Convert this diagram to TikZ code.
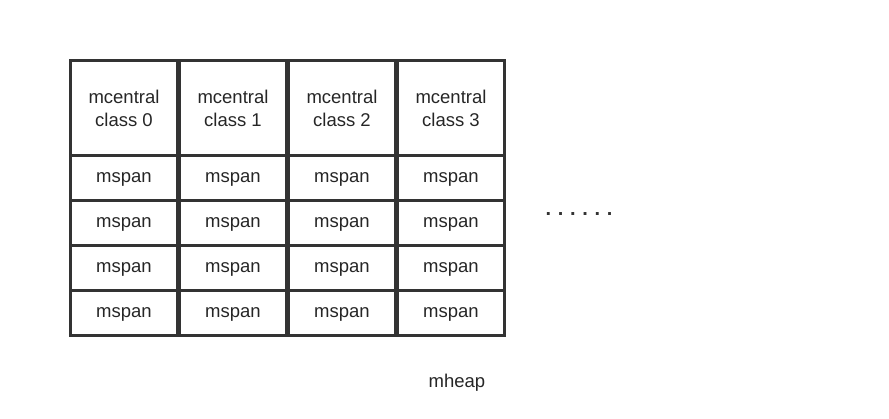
\documentclass[tikz,border=0pt]{standalone}
\usepackage{fontspec}
\setmainfont{Liberation Sans}
\begin{document}
\begin{tikzpicture}[x=1pt, y=-1pt,
    cell/.style={draw=black!80, line width=2.6pt, minimum width=107pt, inner sep=0pt, align=center, font=\fontsize{18.5}{23}\selectfont, text=black!85}]

        \useasboundingbox (0,0) rectangle (889,419);
        % header row with one mcentral per class
        \foreach \c in {0,...,3} {
            \node[cell, minimum height=95pt] (head\c) at (124+109*\c,108) {mcentral\\class \c};
            % mspan rows below
            \foreach \r in {1,...,4} {
                \node[cell, minimum height=45pt, text depth=0pt] (span\c\r) at (124+109*\c,133+45*\r) {mspan};
            }
        }

        \node[font=\fontsize{20}{20}\bfseries, text=black!80] (more) at (579,214) {.\,\,.\,\,.\,\,.\,\,.\,\,.};
        \node[font=\fontsize{18.5}{23}\selectfont, text=black!85] (heap) at (457,383) {mheap};

    \end{tikzpicture}
\end{document}
